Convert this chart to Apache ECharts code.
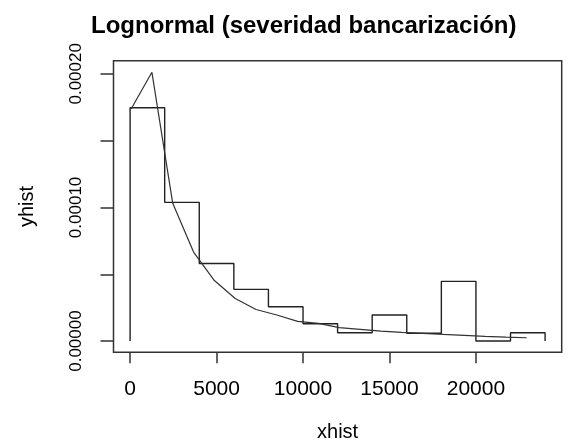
<!DOCTYPE html>
<html>
<head>
<meta charset="utf-8">
<script src="https://cdn.jsdelivr.net/npm/echarts@6/dist/echarts.min.js"></script>
<style>
html,body{margin:0;padding:0;background:#fff;}
#chart{width:580px;height:444px;}
</style>
</head>
<body>
<div id="chart"></div>
<script>
// Histogram bins (edges) and heights (density)
const binEdges = [0, 2000, 4000, 6000, 8000, 10000, 12000, 14000, 16000, 18000, 20000, 22000, 24000];
const binHeights = [0.0001746, 0.0001038, 0.0000581, 0.0000387, 0.0000257, 0.0000130, 0.0000062, 0.0000195, 0.0000058, 0.0000447, 0.0000000, 0.0000062];
// Fitted lognormal density curve
const curveX = [58, 1262, 2466, 3670, 4874, 6078, 7282, 8486, 9690, 10894, 12098, 13302, 14506, 15710, 16914, 18118, 19322, 20526, 21730, 22935];
const curveY = [0.0001737, 0.0002011, 0.0001031, 0.0000666, 0.0000453, 0.0000318, 0.0000236, 0.0000195, 0.0000147, 0.0000132, 0.0000100, 0.0000088, 0.0000075, 0.0000065, 0.0000058, 0.0000050, 0.0000043, 0.0000035, 0.0000030, 0.0000025];
// Tick values and labels
const xTicks = [0, 5000, 10000, 15000, 20000];
const yTicks = [0, 0.00005, 0.0001, 0.00015, 0.0002];
const yLabels = [0, 0.0001, 0.0002];

const titleText = 'Lognormal (severidad bancarización)';
const xName = 'xhist';
const yName = 'yhist';

const FONT = "'Liberation Sans', Arial, Helvetica, sans-serif";

// Step data for histogram (R type="s")
const histData = [[binEdges[0], 0]];
for (let i = 0; i < binHeights.length; i++) histData.push([binEdges[i], binHeights[i]]);
histData.push([binEdges[binEdges.length - 1], 0]);

const curveData = curveX.map((x, i) => [x, curveY[i]]);

const chart = echarts.init(document.getElementById('chart'), null, {renderer: 'canvas'});
chart.setOption({
  animation: false,
  backgroundColor: '#ffffff',
  title: {
    text: titleText,
    left: 86,
    top: 9,
    textStyle: {fontFamily: FONT, fontSize: 24, fontWeight: 'bold', color: '#000'}
  },
  grid: {
    left: 113.5, top: 60.7, width: 448.2, height: 291.6,
    outerBoundsMode: 'none', containLabel: false,
    show: true, borderColor: '#333', borderWidth: 1.5, backgroundColor: 'transparent'
  },
  xAxis: {
    type: 'value',
    min: -960, max: 24960,
    name: xName,
    nameLocation: 'middle',
    nameGap: 70,
    nameTextStyle: {fontFamily: FONT, fontSize: 20, color: '#000'},
    axisLine: {show: false, onZero: false},
    splitLine: {show: false},
    axisTick: {show: true, inside: false, length: 11, customValues: xTicks, lineStyle: {color: '#333', width: 1.5}},
    axisLabel: {customValues: xTicks, margin: 26, fontFamily: FONT, fontSize: 21, color: '#000', formatter: v => String(v)}
  },
  yAxis: {
    type: 'value',
    min: -0.0000084, max: 0.0002098,
    name: yName,
    nameLocation: 'middle',
    nameRotate: 90,
    nameGap: 76,
    nameTextStyle: {fontFamily: FONT, fontSize: 20, color: '#000'},
    axisLine: {show: false, onZero: false},
    splitLine: {show: false},
    axisTick: {show: true, inside: false, length: 13, customValues: yTicks, lineStyle: {color: '#333', width: 1.5}},
    axisLabel: {customValues: yLabels, rotate: 90, margin: 29, fontFamily: FONT, fontSize: 17, color: '#000',
      formatter: v => Number(v).toFixed(5)}
  },
  series: [
    {
      type: 'line', step: 'end', data: histData, symbol: 'none',
      lineStyle: {color: '#222', width: 1.4}, silent: true
    },
    {
      type: 'line', data: curveData, symbol: 'none', smooth: false,
      lineStyle: {color: '#333', width: 1.2}, silent: true
    }
  ]
});
</script>
</body>
</html>
